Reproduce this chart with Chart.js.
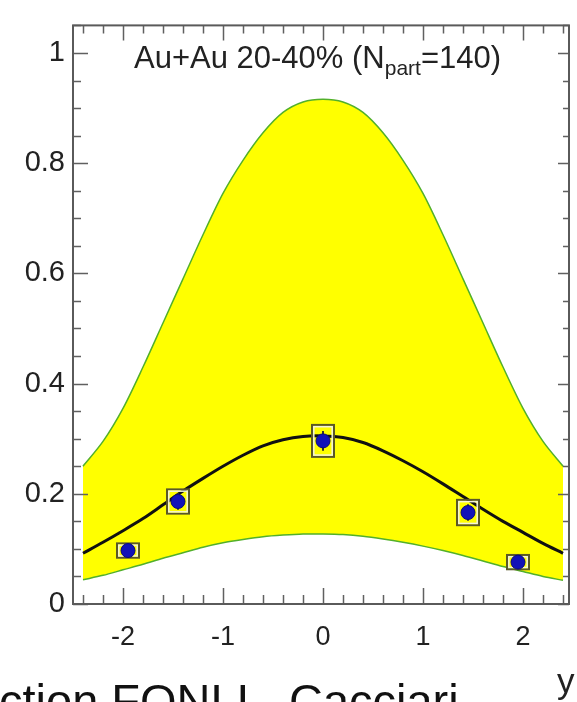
<!DOCTYPE html>
<html>
<head>
<meta charset="utf-8">
<script src="https://cdn.jsdelivr.net/npm/chart.js@4.4.1/dist/chart.umd.min.js"></script>
<style>
  html, body { margin: 0; padding: 0; background: #fff; }
  #wrap { position: relative; width: 577px; height: 702px; overflow: hidden;
          font-family: "Liberation Sans", Arial, Helvetica, sans-serif; color: #222; }
  #dndy { position: absolute; left: 0; top: 0; }
  .lbl { position: absolute; white-space: nowrap; line-height: 1; }
  #title { left: 134px; top: 42px; font-size: 31px; }
  #title span { font-size: 21px; position: relative; top: 7px; }
  #xname { left: 557px; top: 663px; font-size: 35px; }
  #note { left: -1px; top: 677px; font-size: 47px; color: #111; }
</style>
</head>
<body>
<div id="wrap">
  <canvas id="dndy" width="577" height="702"></canvas>
  <div class="lbl" id="title">Au+Au 20-40% (N<span>part</span>=140)</div>
  <div class="lbl" id="xname">y</div>
  <div class="lbl" id="note">ction FONLL, Cacciari</div>
</div>
<script>
// axis ticks
const xTicks = [-2, -1, 0, 1, 2];
const yTicks = [0, 0.2, 0.4, 0.6, 0.8, 1];

// FONLL band (upper / lower edge) and central curve
const bandX    = [-2.4, -2.2, -2.0, -1.8, -1.6, -1.4, -1.2, -1.0, -0.8, -0.6, -0.4, -0.2, 0,
                   0.2, 0.4, 0.6, 0.8, 1.0, 1.2, 1.4, 1.6, 1.8, 2.0, 2.2, 2.4];
const bandHigh = [0.25, 0.295, 0.355, 0.43, 0.51, 0.59, 0.67, 0.745, 0.805, 0.855, 0.892, 0.911, 0.916,
                  0.911, 0.892, 0.855, 0.805, 0.745, 0.67, 0.59, 0.51, 0.43, 0.355, 0.295, 0.25];
const bandLow  = [0.044, 0.052, 0.062, 0.072, 0.083, 0.093, 0.103, 0.111, 0.117, 0.122, 0.125, 0.127, 0.127,
                  0.126, 0.123, 0.118, 0.112, 0.105, 0.097, 0.088, 0.078, 0.068, 0.059, 0.050, 0.043];
const bandMid  = [0.092, 0.112, 0.133, 0.155, 0.180, 0.205, 0.228, 0.250, 0.270, 0.287, 0.298, 0.304, 0.305,
                  0.302, 0.293, 0.278, 0.260, 0.240, 0.218, 0.195, 0.172, 0.150, 0.130, 0.110, 0.092];

// measured points: rapidity, value, stat and syst errors
const ptX    = [-1.95, -1.45, 0, 1.45, 1.95];
const ptVal  = [0.097, 0.186, 0.296, 0.166, 0.076];
const ptStat = [0.012, 0.015, 0.018, 0.015, 0.012];
const ptSys  = [0.013, 0.022, 0.029, 0.023, 0.013];
const sysHalfW = 0.11;

const toXY = (xs, ys) => xs.map((x, i) => ({ x: x, y: ys[i] }));

// syst boxes + stat bars, painted just under the points
const sysBoxes = {
  id: 'sysBoxes',
  beforeDatasetDraw(chart, args) {
    if (args.index !== 0) return;
    const { ctx, scales: { x, y } } = chart;
    ctx.save();
    ptX.forEach((px, i) => {
      const l = x.getPixelForValue(px - sysHalfW), r = x.getPixelForValue(px + sysHalfW);
      const t = y.getPixelForValue(ptVal[i] + ptSys[i]), b = y.getPixelForValue(ptVal[i] - ptSys[i]);
      ctx.lineWidth = 2;
      ctx.strokeStyle = '#5a5828';
      ctx.strokeRect(l, t, r - l, b - t);
      ctx.lineWidth = 1.5;
      ctx.strokeStyle = '#f4f4d8';
      ctx.strokeRect(l + 1.8, t + 1.8, r - l - 3.6, b - t - 3.6);
      // stat error bar
      const cx = x.getPixelForValue(px);
      ctx.lineWidth = 2;
      ctx.strokeStyle = '#333';
      ctx.beginPath();
      ctx.moveTo(cx, y.getPixelForValue(ptVal[i] + ptStat[i]));
      ctx.lineTo(cx, y.getPixelForValue(ptVal[i] - ptStat[i]));
      ctx.stroke();
    });
    ctx.restore();
  }
};

// frame with inward major/minor ticks on all four sides
const frameTicks = {
  id: 'frameTicks',
  afterDraw(chart) {
    const { ctx, chartArea: a, scales: { x, y } } = chart;
    ctx.save();
    ctx.strokeStyle = '#606060';
    ctx.lineWidth = 1.5;
    ctx.beginPath();
    for (let i = -12; i <= 12; i++) {
      const px = Math.round(x.getPixelForValue(i * 0.2)) + 0.5;
      const major = i % 5 === 0;
      ctx.moveTo(px, a.bottom); ctx.lineTo(px, a.bottom - (major ? 16 : 9));
      ctx.moveTo(px, a.top); ctx.lineTo(px, a.top + (major ? 15 : 8));
    }
    for (let i = 0; i <= 21; i++) {
      const py = Math.round(y.getPixelForValue(i * 0.05)) + 0.5;
      const major = i % 4 === 0;
      ctx.moveTo(a.left, py); ctx.lineTo(a.left + (major ? 15 : 8), py);
      ctx.moveTo(a.right, py); ctx.lineTo(a.right - (major ? 11 : 6), py);
    }
    ctx.stroke();
    ctx.lineWidth = 2;
    ctx.strokeStyle = '#5a5a5a';
    ctx.strokeRect(a.left, a.top, a.right - a.left, a.bottom - a.top);
    ctx.restore();
  }
};

const tickFamily = '"Liberation Sans", Arial, sans-serif';

new Chart(document.getElementById('dndy'), {
  type: 'line',
  data: {
    datasets: [
      {
        label: 'data',
        data: toXY(ptX, ptVal),
        showLine: false,
        pointRadius: 7,
        pointBackgroundColor: '#1212b8',
        pointBorderColor: '#0a0a7a',
        pointBorderWidth: 1
      },
      {
        label: 'FONLL',
        data: toXY(bandX, bandMid),
        borderColor: '#111',
        borderWidth: 3,
        pointRadius: 0,
        tension: 0.3,
        fill: false
      },
      {
        label: 'upper',
        data: toXY(bandX, bandHigh),
        borderColor: '#52b02a',
        borderWidth: 1.5,
        backgroundColor: '#ffff00',
        pointRadius: 0,
        tension: 0.3,
        fill: '+1'
      },
      {
        label: 'lower',
        data: toXY(bandX, bandLow),
        borderColor: '#52b02a',
        borderWidth: 1.5,
        pointRadius: 0,
        tension: 0.3,
        fill: false
      }
    ]
  },
  options: {
    responsive: false,
    animation: false,
    layout: { padding: { top: 7, right: 5, left: 0, bottom: 0 } },
    plugins: {
      legend: { display: false },
      tooltip: { enabled: false },
      filler: { drawTime: 'beforeDatasetsDraw' }
    },
    scales: {
      x: {
        type: 'linear',
        min: -2.5,
        max: 2.46,
        afterBuildTicks: (axis) => { axis.ticks = xTicks.map(v => ({ value: v })); },
        afterFit: (axis) => { axis.height = 98; },
        grid: { display: false, drawTicks: false },
        border: { display: false },
        ticks: { color: '#222', font: { family: tickFamily, size: 27 }, padding: 17, maxRotation: 0,
                 callback: (v) => String(v) }
      },
      y: {
        min: 0,
        max: 1.05,
        afterBuildTicks: (axis) => { axis.ticks = yTicks.map(v => ({ value: v })); },
        afterFit: (axis) => { axis.width = 73; },
        grid: { display: false, drawTicks: false },
        border: { display: false },
        ticks: { color: '#222', font: { family: tickFamily, size: 29 }, padding: 8,
                 callback: (v) => String(v) }
      }
    }
  },
  plugins: [sysBoxes, frameTicks]
});
</script>
</body>
</html>
